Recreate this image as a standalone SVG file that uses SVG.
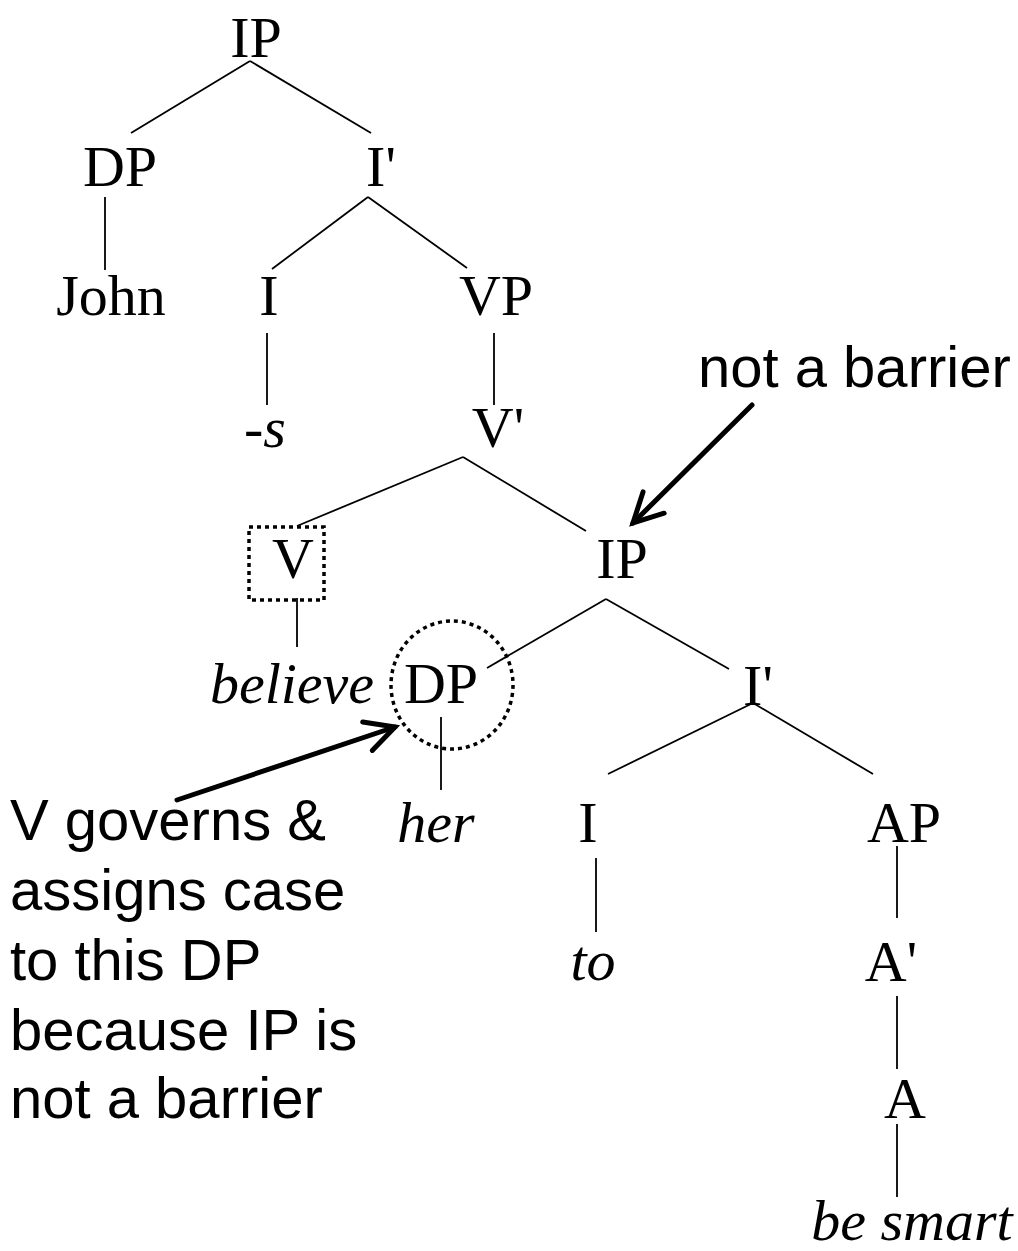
<svg xmlns="http://www.w3.org/2000/svg" width="1018" height="1251" viewBox="0 0 1018 1251">
<defs>
<style>
.t{font-family:"Liberation Serif","Times New Roman",serif;font-size:58px;fill:#000;text-anchor:middle}
.i{font-style:italic}
.s{font-family:"Liberation Sans",Arial,sans-serif;font-size:58px;fill:#000}
.e{stroke:#000;stroke-width:1.8;fill:none}
.a{stroke:#000;stroke-width:5;fill:none;stroke-linecap:round}
.dot{stroke:#000;stroke-width:3.5;fill:none;stroke-dasharray:4 4}
</style>
<marker id="head" markerUnits="userSpaceOnUse" orient="auto" overflow="visible" refX="0" refY="0" markerWidth="40" markerHeight="40">
<path d="M -29 -15 L 0 0 L -29 15" stroke="#000" stroke-width="5" fill="none" stroke-linecap="round" stroke-linejoin="miter"/>
</marker>
</defs>
<rect width="1018" height="1251" fill="#fff"/>
<g id="connectors">
<line class="e" x1="250" y1="61" x2="131" y2="133"/>
<line class="e" x1="250" y1="61" x2="371" y2="133"/>
<line class="e" x1="105" y1="197" x2="105" y2="270"/>
<line class="e" x1="368" y1="197" x2="272" y2="269"/>
<line class="e" x1="368" y1="197" x2="467" y2="268"/>
<line class="e" x1="267" y1="333" x2="267" y2="405"/>
<line class="e" x1="494" y1="333" x2="494" y2="405"/>
<line class="e" x1="463" y1="457" x2="297" y2="526"/>
<line class="e" x1="463" y1="457" x2="586" y2="531"/>
<line class="e" x1="297" y1="598" x2="297" y2="647"/>
<line class="e" x1="606" y1="599" x2="487" y2="668"/>
<line class="e" x1="606" y1="599" x2="729" y2="669"/>
<line class="e" x1="441" y1="717" x2="441" y2="790"/>
<line class="e" x1="753" y1="703" x2="608" y2="774"/>
<line class="e" x1="753" y1="703" x2="873" y2="774"/>
<line class="e" x1="596" y1="858" x2="596" y2="932"/>
<line class="e" x1="897" y1="846" x2="897" y2="918"/>
<line class="e" x1="897" y1="996" x2="897" y2="1069"/>
<line class="e" x1="897" y1="1124" x2="897" y2="1197"/>
<line class="a" x1="752" y1="405" x2="633" y2="523" marker-end="url(#head)"/>
<line class="a" x1="177" y1="800" x2="395" y2="727" marker-end="url(#head)"/>
</g>
<g id="n-ip1"><text class="t" x="256" y="57">IP</text></g>
<g id="n-dp1"><text class="t" x="120" y="186">DP</text></g>
<g id="n-ibar1"><text class="t" x="381" y="186">I'</text></g>
<g id="n-john"><text class="t" x="111" y="315">John</text></g>
<g id="n-i1"><text class="t" x="269" y="315">I</text></g>
<g id="n-vp"><text class="t" x="496" y="315">VP</text></g>
<g id="n-s"><text class="t i" x="265" y="447">-s</text></g>
<g id="n-vbar"><text class="t" x="498" y="447">V'</text></g>
<g id="n-v"><rect class="dot" x="249" y="527" width="75" height="73"/><text class="t" x="293" y="578">V</text></g>
<g id="n-ip2"><text class="t" x="622" y="578">IP</text></g>
<g id="n-believe"><text class="t i" x="292" y="703">believe</text></g>
<g id="n-dp2"><ellipse class="dot" cx="452" cy="685" rx="61" ry="64"/><text class="t" x="441" y="703">DP</text></g>
<g id="n-ibar2"><text class="t" x="758" y="705">I'</text></g>
<g id="n-her"><text class="t i" x="436" y="842">her</text></g>
<g id="n-i2"><text class="t" x="588" y="842">I</text></g>
<g id="n-ap"><text class="t" x="904" y="842">AP</text></g>
<g id="n-to"><text class="t i" x="593" y="980">to</text></g>
<g id="n-abar"><text class="t" x="891" y="981">A'</text></g>
<g id="n-a"><text class="t" x="905" y="1118">A</text></g>
<g id="n-besmart"><text class="t i" x="912" y="1240">be smart</text></g>
<g id="note-top"><text class="s" x="698" y="387">not a barrier</text></g>
<g id="note-left">
<text class="s" x="10" y="840">V governs &amp;</text>
<text class="s" x="10" y="910">assigns case</text>
<text class="s" x="10" y="980">to this DP</text>
<text class="s" x="10" y="1050">because IP is</text>
<text class="s" x="10" y="1118">not a barrier</text>
</g>
</svg>
